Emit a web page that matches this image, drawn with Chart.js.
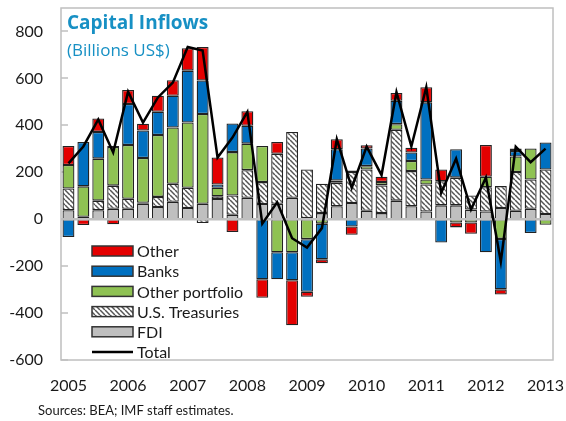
<!DOCTYPE html>
<html>
<head>
<meta charset="utf-8">
<script src="https://cdn.jsdelivr.net/npm/chart.js@4"></script>
<style>
  body { margin: 0; background: #fff; }
  canvas { display: block; }
</style>
</head>
<body>
<canvas id="myChart" width="566" height="421"></canvas>
<script>
// quarterly data, 2005Q1 - 2013Q1 (billions US$)
const years = ['2005', '2006', '2007', '2008', '2009', '2010', '2011', '2012', '2013'];
const quarters = years.flatMap(y => ['Q1', 'Q2', 'Q3', 'Q4'].map(q => y + ' ' + q)).slice(0, 33);

const fdi =            [38, 10, 38, 44, 44, 66, 52, 74, 48, 66, 86, 19, 91, 65, 66, 91, 5, 26, 55, 69, 36, 26, 79, 55, 33, 59, 59, 41, 33, 48, 36, 44, 22];
const treasuries =     [93, 0, 41, 99, 43, 4, 43, 77, 86, -16, 12, 82, 118, 93, 213, 281, 207, 125, 100, 132, 176, 118, 302, 150, 115, 103, 118, 60, 103, 93, 165, 125, 190];
const otherPortfolio = [100, 130, 179, 165, 229, 191, 264, 240, 278, 382, 36, 185, 113, 154, -141, -141, -85, -19, 10, 7, 14, 14, 24, 43, 21, 0, -14, -14, 45, -84, 66, 132, -24];
const banks =          [-76, 189, 114, 4, 175, 117, 99, 135, 221, 143, 14, 122, 76, -256, -115, -119, -224, -152, 133, -31, 75, 0, 100, 36, 329, -99, 121, 0, -141, -215, 24, -59, 115];
const other =          [81, -25, 57, -22, 60, 29, 68, 66, 96, 143, 115, -55, 62, -79, 50, -192, -22, -17, 43, -35, 14, 23, 33, 21, 64, 50, -21, -48, 135, -22, 10, 0, 0];
const total =          [238, 310, 425, 284, 543, 412, 519, 582, 734, 719, 263, 348, 457, -19, 72, -81, -121, -38, 341, 134, 309, 188, 541, 310, 562, 112, 258, 41, 177, -181, 309, 243, 301];

const yMin = -600, yMax = 900, yStep = 200;

// hatch for the treasuries bars
function hatch() {
    const c = document.createElement('canvas');
    c.width = 5; c.height = 5;
    const g = c.getContext('2d');
    g.fillStyle = '#fff';
    g.fillRect(0, 0, 5, 5);
    g.strokeStyle = '#555';
    g.lineWidth = 1.5;
    for (let o = -5; o <= 5; o += 5) {
        g.beginPath();
        g.moveTo(o, 0);
        g.lineTo(o + 5, 5);
        g.stroke();
    }
    return g.createPattern(c, 'repeat');
}

const FONT = 'Lato, "Open Sans", sans-serif';
const TITLE_FONT = '"Open Sans", Lato, sans-serif';

const decor = {
    id: 'decor',
    beforeDatasetsDraw(chart) {
        const { ctx, chartArea: a } = chart;
        const y = chart.scales.y;
        ctx.save();
        ctx.strokeStyle = '#bfbfbf';
        ctx.lineWidth = 1.5;
        ctx.strokeRect(a.left, a.top, a.right - a.left, a.bottom - a.top);
        y.ticks.forEach(t => {
            const py = Math.round(y.getPixelForValue(t.value));
            ctx.beginPath();
            ctx.moveTo(a.left, py);
            ctx.lineTo(a.left + 7, py);
            ctx.stroke();
        });
        ctx.restore();
    },
    beforeDatasetDraw(chart, args) {
        // zero line sits over the bars but under the total line
        if (args.meta.type !== 'line') return;
        const { ctx, chartArea: a } = chart;
        const py = chart.scales.y.getPixelForValue(0);
        ctx.save();
        ctx.strokeStyle = '#bfbfbf';
        ctx.lineWidth = 2.5;
        ctx.beginPath();
        ctx.moveTo(a.left, py);
        ctx.lineTo(a.right, py);
        ctx.stroke();
        ctx.restore();
    },
    afterDraw(chart) {
        const { ctx, chartArea: a } = chart;
        ctx.save();
        // title
        ctx.fillStyle = '#1790c4';
        ctx.textBaseline = 'middle';
        ctx.font = 'bold 19px ' + TITLE_FONT;
        ctx.fillText('Capital Inflows', a.left + 6, 24);
        ctx.font = '17px ' + TITLE_FONT;
        ctx.fillText('(Billions US$)', a.left + 6, 51);

        // legend
        const ds = chart.data.datasets;
        const items = ds.filter(d => d.type !== 'line').reverse().concat(ds.filter(d => d.type === 'line'));
        let yy = 251;
        items.forEach(d => {
            if (d.type === 'line') {
                ctx.strokeStyle = '#000';
                ctx.lineWidth = 2.5;
                ctx.beginPath();
                ctx.moveTo(92, yy);
                ctx.lineTo(133, yy);
                ctx.stroke();
            } else {
                ctx.fillStyle = d.backgroundColor;
                ctx.fillRect(92, yy - 5, 41, 10);
                ctx.strokeStyle = '#333';
                ctx.lineWidth = 1.5;
                ctx.strokeRect(92, yy - 5, 41, 10);
            }
            ctx.fillStyle = '#1a1a1a';
            ctx.font = '16px ' + FONT;
            ctx.fillText(d.label, 137, yy + 1);
            yy += 20.2;
        });

        // source note
        ctx.fillStyle = '#1a1a1a';
        ctx.font = '13px ' + FONT;
        ctx.fillText('Sources: BEA; IMF staff estimates.', 38, 411);
        ctx.restore();
    }
};

function getChart() {
    const ctx = document.getElementById('myChart');
    const barStyle = {
        type: 'bar',
        stack: 'flows',
        order: 1,
        borderColor: '#222',
        borderWidth: 1.3,
        borderSkipped: false,
        categoryPercentage: 1,
        barPercentage: 0.8
    };

    const chart = new Chart(ctx, {
        data: {
            labels: quarters,
            datasets: [
                { ...barStyle, label: 'FDI', data: fdi, backgroundColor: '#bfbfbf' },
                { ...barStyle, label: 'U.S. Treasuries', data: treasuries, backgroundColor: hatch() },
                { ...barStyle, label: 'Other portfolio', data: otherPortfolio, backgroundColor: '#8fc253' },
                { ...barStyle, label: 'Banks', data: banks, backgroundColor: '#0070c0' },
                { ...barStyle, label: 'Other', data: other, backgroundColor: '#e40000' },
                {
                    type: 'line',
                    label: 'Total',
                    data: total,
                    stack: 'total',
                    order: 0,
                    borderColor: '#000',
                    borderWidth: 2.5,
                    pointRadius: 0,
                    tension: 0,
                    fill: false
                }
            ]
        },
        options: {
            responsive: false,
            animation: false,
            layout: { padding: { top: 8, right: 13, left: 0, bottom: 0 } },
            plugins: {
                legend: { display: false },
                tooltip: { enabled: false }
            },
            scales: {
                x: {
                    stacked: true,
                    grid: { display: false, drawTicks: false },
                    border: { display: false },
                    ticks: {
                        autoSkip: false,
                        maxRotation: 0,
                        padding: 16,
                        color: '#1a1a1a',
                        font: { family: FONT, size: 16 },
                        callback: function (v) {
                            const lab = this.getLabelForValue(v);
                            return lab.endsWith('Q1') ? lab.slice(0, 4) : '';
                        }
                    },
                    afterFit: s => {
                        s.height = 61;
                        s.paddingLeft = 0;
                        s.paddingRight = 0;
                    }
                },
                y: {
                    stacked: true,
                    min: yMin,
                    max: yMax,
                    grid: { display: false, drawTicks: false },
                    border: { display: false },
                    ticks: {
                        stepSize: yStep,
                        padding: 18,
                        color: '#1a1a1a',
                        font: { family: FONT, size: 16 }
                    },
                    afterBuildTicks: s => { s.ticks = s.ticks.filter(t => t.value <= 800); },
                    afterFit: s => {
                        s.width = 61;
                        s.paddingTop = 0;
                        s.paddingBottom = 0;
                    }
                }
            }
        },
        plugins: [decor]
    });
}

getChart();
</script>
</body>
</html>
